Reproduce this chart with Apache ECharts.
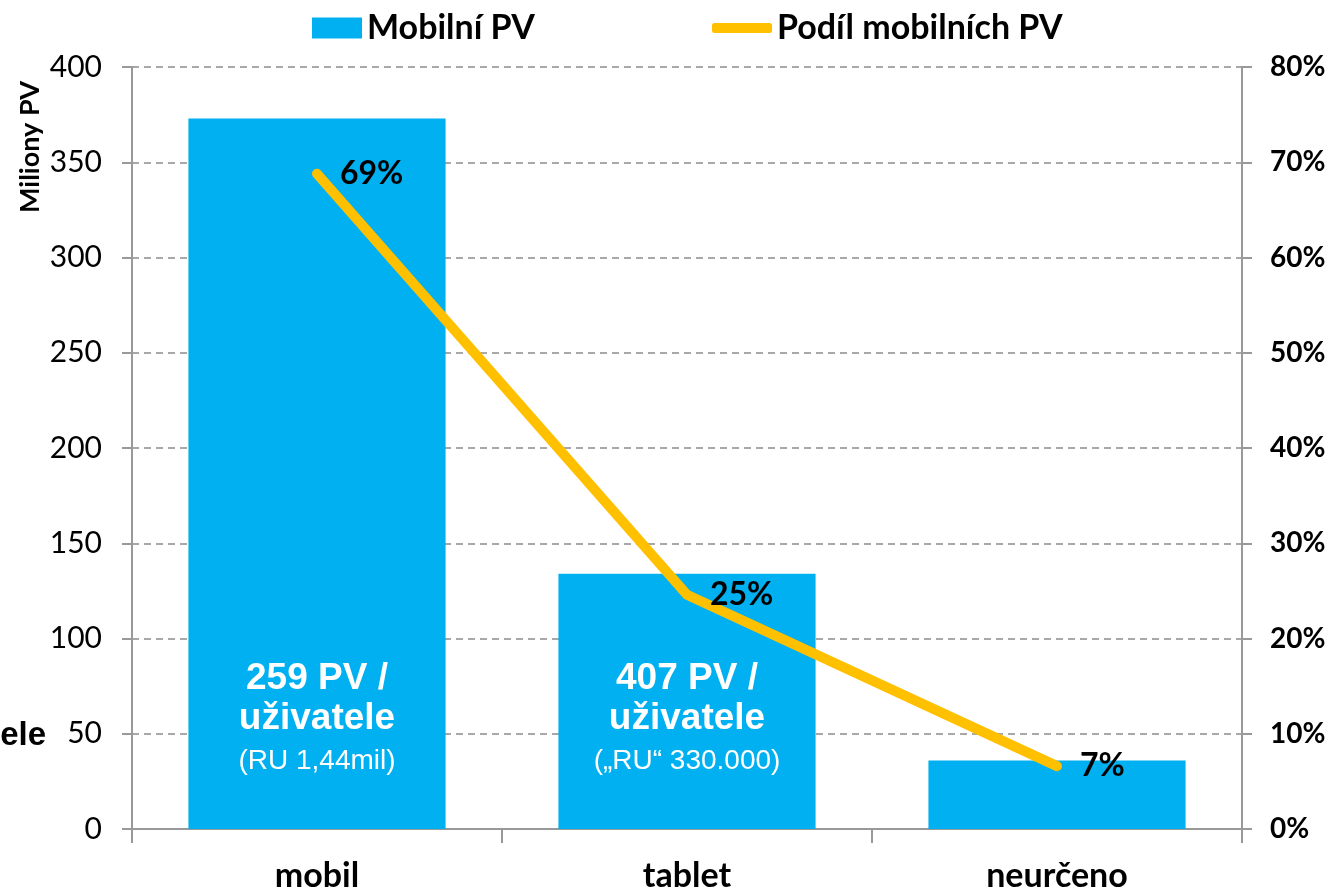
<!DOCTYPE html>
<html>
<head>
<meta charset="utf-8">
<script src="https://cdn.jsdelivr.net/npm/echarts@6/dist/echarts.min.js"></script>
<style>
  html, body { margin: 0; padding: 0; background: #fff; }
  #chart { width: 1330px; height: 893px; }
</style>
</head>
<body>
<div id="chart"></div>
<script>
// ─── Data ─────────────────────────────────────────────────────────────────
const categories   = ['mobil', 'tablet', 'neurčeno'];
const pageViews    = [373, 134, 36];          // Miliony PV
const mobileShare  = [0.688, 0.246, 0.066];   // Podíl mobilních PV
const perUserMain  = ['259 PV /', '407 PV /', ''];
const perUserNote  = ['(RU 1,44mil)', '(„RU“ 330.000)', ''];
const leftTicks    = { min: 0, max: 400, interval: 50 };
const rightTicks   = { min: 0, max: 0.8, interval: 0.1 };

const FONT = 'Lato, "Open Sans", sans-serif';
const ARIAL = '"Liberation Sans", Arial, sans-serif';
const BLUE = '#00B0F0';
const GOLD = '#FFC000';
const GRID_GREY = '#8c8c8c';

const chart = echarts.init(document.getElementById('chart'));

// bars carry the "PV / uživatele" notes inside them
const barData = pageViews.map((v, i) => {
  if (!perUserMain[i]) return v;
  return {
    value: v,
    label: {
      show: true,
      position: 'insideBottom',
      distance: 46,
      formatter: `{a|${perUserMain[i]}}\n{a|uživatele}\n{b|${perUserNote[i]}}`,
      rich: {
        a: { fontFamily: ARIAL, fontWeight: 'bold', fontSize: 37, color: '#fff', lineHeight: 40 },
        b: { fontFamily: ARIAL, fontSize: 28, color: '#fff', lineHeight: 44 }
      }
    }
  };
});

chart.setOption({
  animation: false,
  grid: { left: 132, right: 88, top: 67, bottom: 63 },
  legend: [
    {
      data: ['Mobilní PV'],
      left: 307, top: 6,
      icon: 'rect', itemWidth: 50, itemHeight: 21,
      textStyle: { fontFamily: FONT, fontWeight: 'bold', fontSize: 34, color: '#000' }
    },
    {
      data: ['Podíl mobilních PV'],
      left: 707, top: 6,
      icon: 'roundRect', itemWidth: 60, itemHeight: 10,
      itemStyle: { color: GOLD },
      textStyle: { fontFamily: FONT, fontWeight: 'bold', fontSize: 34, color: '#000' }
    }
  ],
  graphic: [
    {
      type: 'text', x: 30, y: 147, rotation: Math.PI / 2,
      style: { text: 'Miliony PV', fontFamily: FONT, fontWeight: 'bold', fontSize: 27, fill: '#000',
               align: 'center', verticalAlign: 'middle' }
    },
    {
      type: 'text', x: 46, y: 736,
      style: { text: 'uživatele', fontFamily: ARIAL, fontWeight: 'bold', fontSize: 33,
               fill: '#000', align: 'right', verticalAlign: 'middle' }
    }
  ],
  xAxis: {
    type: 'category',
    data: categories,
    axisLine: { lineStyle: { color: '#999', width: 2 } },
    axisTick: { show: true, length: 14, lineStyle: { color: '#999', width: 2 } },
    axisLabel: { fontFamily: FONT, fontWeight: 'bold', fontSize: 34, color: '#000', margin: 30 }
  },
  yAxis: [
    {
      type: 'value',
      ...leftTicks,
      axisLine: { show: true, lineStyle: { color: '#999', width: 2 } },
      axisTick: { show: true, length: 10, lineStyle: { color: '#999', width: 2 } },
      axisLabel: { fontFamily: FONT, fontSize: 30, color: '#000', margin: 30 },
      splitLine: { lineStyle: { color: GRID_GREY, width: 1.5, type: [7, 5] } }
    },
    {
      type: 'value',
      ...rightTicks,
      position: 'right',
      axisLine: { show: true, lineStyle: { color: '#999', width: 2 } },
      axisTick: { show: true, length: 10, lineStyle: { color: '#999', width: 2 } },
      axisLabel: {
        fontFamily: FONT, fontWeight: 'bold', fontSize: 28, color: '#000', margin: 28,
        formatter: v => Math.round(v * 100) + '%'
      },
      splitLine: { show: false }
    }
  ],
  series: [
    {
      name: 'Mobilní PV',
      type: 'bar',
      barWidth: '69.5%',
      itemStyle: { color: BLUE },
      data: barData
    },
    {
      name: 'Podíl mobilních PV',
      type: 'line',
      yAxisIndex: 1,
      symbol: 'circle',
      symbolSize: 2,
      showSymbol: true,
      z: 5,
      lineStyle: { color: GOLD, width: 10, cap: 'round', join: 'round' },
      itemStyle: { color: GOLD },
      label: {
        show: true,
        position: 'right',
        distance: 22,
        fontFamily: FONT, fontWeight: 'bold', fontSize: 32, color: '#000',
        formatter: p => Math.round(p.value * 100) + '%'
      },
      labelLayout: { hideOverlap: false },
      data: mobileShare
    }
  ]
});
</script>
</body>
</html>
